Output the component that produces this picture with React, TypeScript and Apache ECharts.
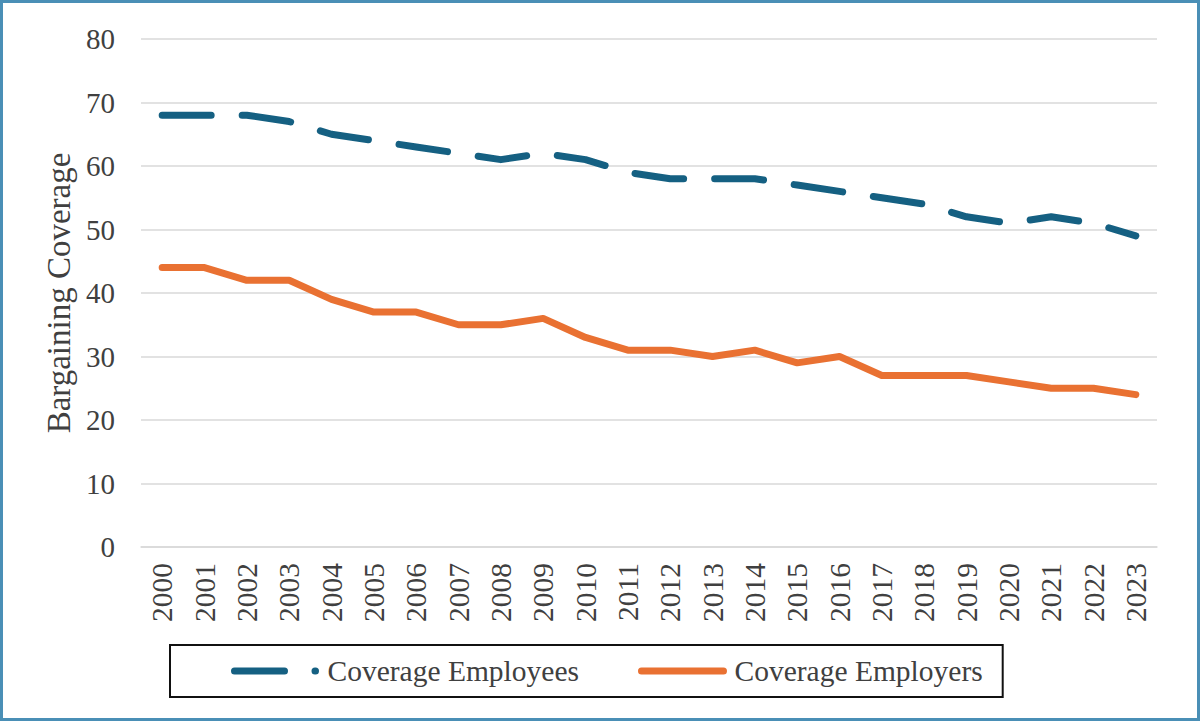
import React, { useEffect, useRef } from "react";
import * as echarts from "echarts";

const years = [
  "2000", "2001", "2002", "2003", "2004", "2005", "2006", "2007", "2008", "2009", "2010", "2011",
  "2012", "2013", "2014", "2015", "2016", "2017", "2018", "2019", "2020", "2021", "2022", "2023",
];
const employees = [68, 68, 68, 67, 65, 64, 63, 62, 61, 62, 61, 59, 58, 58, 58, 57, 56, 55, 54, 52, 51, 52, 51, 49];
const employers = [44, 44, 42, 42, 39, 37, 37, 35, 35, 36, 33, 31, 31, 30, 31, 29, 30, 27, 27, 27, 26, 25, 25, 24];
const seriesNames = ["Coverage Employees", "Coverage Employers"];
const yTitle = "Bargaining Coverage";

const FONT = "'Liberation Serif', 'Times New Roman', serif";
const TEXT = "#404040";
const BLUE = "#156082";
const ORANGE = "#e97132";

export default function App() {
  const ref = useRef<HTMLDivElement>(null);
  useEffect(() => {
    document.body.style.margin = "0";
    const chart = echarts.init(ref.current!, null, { renderer: "svg" });
    chart.setOption({
      animation: false,
      backgroundColor: "#ffffff",
      textStyle: { fontFamily: FONT, color: TEXT },
      graphic: [
        {
          type: "rect",
          shape: { x: 1.5, y: 1.5, width: 1197, height: 718 },
          style: { fill: "none", stroke: "#4a8fb6", lineWidth: 3 },
          z: 100,
        },
      ],
      grid: { left: 141, right: 43, top: 39, bottom: 174, containLabel: false },
      xAxis: {
        type: "category",
        data: years,
        boundaryGap: true,
        axisLine: { show: true, lineStyle: { color: "#d9d9d9", width: 1.5 } },
        axisTick: { show: false },
        axisLabel: {
          rotate: 90,
          margin: 16,
          fontSize: 29.5,
          fontFamily: FONT,
          color: TEXT,
          interval: 0,
        },
      },
      yAxis: {
        type: "value",
        min: 0,
        max: 80,
        interval: 10,
        name: yTitle,
        nameLocation: "middle",
        nameGap: 57,
        nameTextStyle: { fontSize: 33, fontFamily: FONT, color: TEXT },
        axisLine: { show: false },
        axisTick: { show: false },
        axisLabel: { margin: 26, fontSize: 29, fontFamily: FONT, color: TEXT },
        splitLine: { lineStyle: { color: "#d9d9d9", width: 1.5 } },
      },
      legend: {
        left: 170,
        top: 645,
        orient: "horizontal",
        padding: [11, 20, 11, 61],
        itemGap: 59,
        itemWidth: 82,
        itemHeight: 14,
        borderColor: "#111111",
        borderWidth: 2,
        itemStyle: { opacity: 0 },
        textStyle: {
          fontSize: 29.5,
          fontFamily: FONT,
          color: TEXT,
          lineHeight: 30,
          padding: [0, 0, 0, 6],
        },
        data: [
          {
            name: seriesNames[0],
            lineStyle: { type: [50, 30.5, 0.5, 100], cap: "round", width: 7 },
          },
          { name: seriesNames[1], lineStyle: { cap: "round", width: 7 } },
        ],
      },
      series: [
        {
          name: seriesNames[0],
          type: "line",
          data: employees,
          symbol: "none",
          color: BLUE,
          lineStyle: { color: BLUE, width: 7, type: [49, 31], cap: "round", join: "round" },
        },
        {
          name: seriesNames[1],
          type: "line",
          data: employers,
          symbol: "none",
          color: ORANGE,
          lineStyle: { color: ORANGE, width: 7, cap: "round", join: "round" },
        },
      ],
    });
    return () => chart.dispose();
  }, []);
  return (
    <div
      ref={ref}
      style={{ position: "absolute", left: 0, top: 0, width: 1200, height: 721 }}
    />
  );
}
